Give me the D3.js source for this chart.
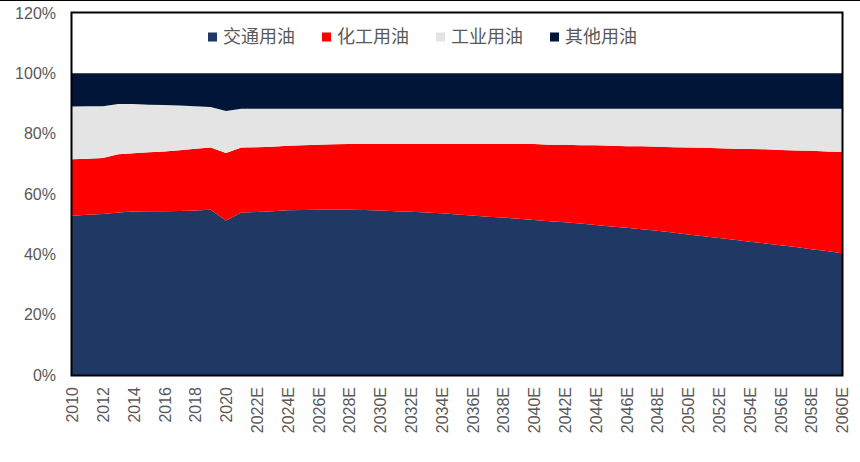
<!DOCTYPE html>
<html>
<head>
<meta charset="utf-8">
<script src="https://cdn.jsdelivr.net/npm/d3@7"></script>
<style>
  body { margin: 0; background: #fff; }
  svg { display: block; }
</style>
</head>
<body>
<svg id="chart" width="860" height="462"></svg>
<script>
// years 2010..2060, shares in %
var years = d3.range(2010, 2061);
var yearLabels = years.map(function (y) { return y > 2020 ? y + "E" : String(y); });

var seriesNames = ["交通用油", "化工用油", "工业用油", "其他用油"];
var seriesColors = ["#203864", "#ff0000", "#e4e4e4", "#001538"];

var transport = [52.8, 53.1, 53.4, 53.9, 54.2, 54.3, 54.3, 54.4, 54.5, 54.8,
  51.2, 53.9, 54.0, 54.3, 54.6, 54.7, 54.8, 54.8, 54.8, 54.7,
  54.5, 54.3, 54.1, 53.9, 53.6, 53.2, 52.9, 52.5, 52.2, 51.8,
  51.4, 51.0, 50.6, 50.2, 49.7, 49.2, 48.8, 48.3, 47.8, 47.2,
  46.6, 46.0, 45.4, 44.8, 44.2, 43.6, 43.0, 42.4, 41.7, 41.1, 40.4];
var chemical = [18.7, 18.6, 18.5, 19.3, 19.3, 19.5, 19.8, 20.1, 20.5, 20.6,
  22.4, 21.5, 21.5, 21.4, 21.4, 21.5, 21.5, 21.7, 21.8, 21.9,
  22.1, 22.3, 22.5, 22.7, 23.0, 23.4, 23.7, 24.1, 24.4, 24.8,
  25.2, 25.3, 25.7, 26.0, 26.5, 26.8, 27.0, 27.5, 27.9, 28.3,
  28.8, 29.3, 29.8, 30.2, 30.7, 31.2, 31.6, 32.0, 32.6, 33.0, 33.5];
var industrial = [17.5, 17.4, 17.2, 16.6, 16.3, 15.8, 15.4, 14.8, 14.1, 13.4,
  13.9, 12.9, 12.8, 12.6, 12.3, 12.1, 12.0, 11.8, 11.7, 11.7,
  11.7, 11.7, 11.7, 11.7, 11.7, 11.7, 11.7, 11.7, 11.7, 11.7,
  11.7, 12.0, 12.0, 12.1, 12.1, 12.3, 12.5, 12.5, 12.6, 12.8,
  12.9, 13.0, 13.1, 13.3, 13.4, 13.5, 13.7, 13.9, 14.0, 14.2, 14.4];
var other = [11.0, 10.9, 10.9, 10.2, 10.2, 10.4, 10.5, 10.7, 10.9, 11.2,
  12.5, 11.7, 11.7, 11.7, 11.7, 11.7, 11.7, 11.7, 11.7, 11.7,
  11.7, 11.7, 11.7, 11.7, 11.7, 11.7, 11.7, 11.7, 11.7, 11.7,
  11.7, 11.7, 11.7, 11.7, 11.7, 11.7, 11.7, 11.7, 11.7, 11.7,
  11.7, 11.7, 11.7, 11.7, 11.7, 11.7, 11.7, 11.7, 11.7, 11.7, 11.7];
var yTicks = [0, 0.2, 0.4, 0.6, 0.8, 1.0, 1.2];

var seriesValues = [transport, chemical, industrial, other];

var rows = years.map(function (yr, i) {
  var r = { year: yr };
  seriesNames.forEach(function (name, k) { r[name] = seriesValues[k][i] / 100; });
  return r;
});

var svg = d3.select("#chart");
var plotLeft = 72, plotRight = 842, plotTop = 13, plotBottom = 375;

var x = d3.scaleLinear().domain([2010, 2060]).range([plotLeft, plotRight]);
var y = d3.scaleLinear().domain([0, 1.2]).range([plotBottom, plotTop]);

// thin line at the very top of the picture
svg.append("line")
  .attr("x1", 0).attr("x2", 860).attr("y1", 0.5).attr("y2", 0.5)
  .attr("stroke", "#000").attr("stroke-width", 1);

var stacked = d3.stack().keys(seriesNames)(rows);

var area = d3.area()
  .x(function (d) { return x(d.data.year); })
  .y0(function (d) { return y(d[0]); })
  .y1(function (d) { return y(d[1]); });

svg.append("g").selectAll("path")
  .data(stacked)
  .join("path")
  .attr("fill", function (d, i) { return seriesColors[i]; })
  .attr("d", area);

// plot frame
svg.append("rect")
  .attr("x", plotLeft - 0.5).attr("y", plotTop - 0.5)
  .attr("width", plotRight - plotLeft + 1).attr("height", plotBottom - plotTop + 1)
  .attr("fill", "none").attr("stroke", "#000").attr("stroke-width", 2);

// y axis
var yAxis = svg.append("g")
  .attr("transform", "translate(" + plotLeft + ",0)")
  .call(d3.axisLeft(y).tickValues(yTicks).tickSize(0).tickPadding(16).tickFormat(d3.format(".0%")));
yAxis.select(".domain").remove();
yAxis.selectAll("text")
  .attr("fill", "#595959")
  .style("font-family", "'Liberation Sans', Arial, sans-serif")
  .style("font-size", "16px");

// x axis
var evenYears = years.filter(function (yr) { return yr % 2 === 0; });
var xAxis = svg.append("g")
  .attr("transform", "translate(0," + plotBottom + ")")
  .call(d3.axisBottom(x).tickValues(evenYears).tickSize(0)
    .tickFormat(function (yr) { return yearLabels[years.indexOf(yr)]; }));
xAxis.select(".domain").remove();
xAxis.selectAll("text")
  .attr("transform", "rotate(-90)")
  .attr("text-anchor", "end")
  .attr("x", -12)
  .attr("y", 0)
  .attr("dy", "0.35em")
  .attr("fill", "#595959")
  .style("font-family", "'Liberation Sans', Arial, sans-serif")
  .style("font-size", "16px");

// legend
var legend = svg.append("g").selectAll("g")
  .data(seriesNames)
  .join("g")
  .attr("transform", function (d, i) { return "translate(" + (208 + i * 114) + ",37)"; });
legend.append("rect")
  .attr("x", 0).attr("y", -4.5).attr("width", 9).attr("height", 9)
  .attr("fill", function (d, i) { return seriesColors[i]; });
legend.append("text")
  .attr("x", 15).attr("dy", "0.35em")
  .attr("fill", "#595959")
  .style("font-family", "'Noto Sans CJK SC', sans-serif")
  .style("font-size", "18px")
  .text(function (d) { return d; });
</script>
</body>
</html>
